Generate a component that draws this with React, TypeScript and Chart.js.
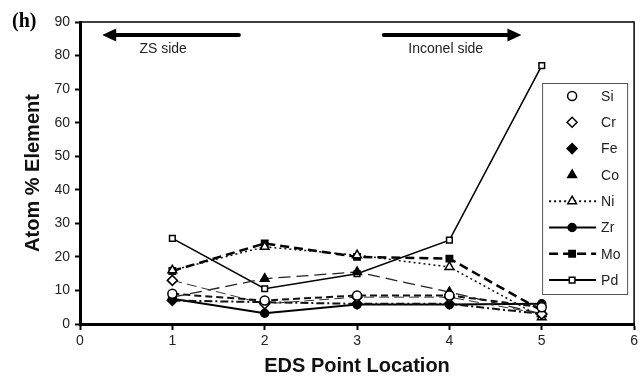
import React, { useEffect, useRef } from 'react';
import { Chart, registerables } from 'chart.js';
import { drawPoint } from 'chart.js/helpers';

Chart.register(...registerables);

// ---- data ----
const locations = [1, 2, 3, 4, 5];
const siValues = [9, 7, 8.5, 8.5, 5];
const crValues = [13, 6, 8, 8, 3];
const feValues = [7, 6.5, 6, 6, 3];
const coValues = [8, 13.5, 15.5, 9.5, 3];
const niValues = [16, 23, 20.5, 17, 2];
const zrValues = [7.5, 3.2, 5.8, 5.8, 6];
const moValues = [15.8, 24, 20, 19.5, 4];
const pdValues = [25.5, 10.5, 15, 25, 77];
const seriesNames = ['Si', 'Cr', 'Fe', 'Co', 'Ni', 'Zr', 'Mo', 'Pd'];
const xTickValues = [0, 1, 2, 3, 4, 5, 6];
const yTickValues = [0, 10, 20, 30, 40, 50, 60, 70, 80, 90];
const panelLabel = '(h)';
const xTitle = 'EDS Point Location';
const yTitle = 'Atom % Element';
const leftNote = 'ZS side';
const rightNote = 'Inconel side';

const seriesValues = [siValues, crValues, feValues, coValues, niValues, zrValues, moValues, pdValues];

// ---- styles ----
type Style = {
  pointStyle: string;
  radius: number;
  fill: string;
  dash: number[];
  width: number;
  lineColor: string;
  legendLine: boolean;
};
const styles: Style[] = [
  { pointStyle: 'circle', radius: 4.5, fill: '#fff', dash: [7, 4], width: 2, lineColor: '#111', legendLine: false },
  { pointStyle: 'rectRot', radius: 5, fill: '#fff', dash: [10, 5], width: 1, lineColor: '#333', legendLine: false },
  { pointStyle: 'rectRot', radius: 5, fill: '#000', dash: [8, 3, 2, 3], width: 2, lineColor: '#111', legendLine: false },
  { pointStyle: 'triangle', radius: 5, fill: '#000', dash: [12, 6], width: 1.3, lineColor: '#222', legendLine: false },
  { pointStyle: 'triangle', radius: 5, fill: '#fff', dash: [2, 3], width: 1.5, lineColor: '#111', legendLine: true },
  { pointStyle: 'circle', radius: 4, fill: '#000', dash: [], width: 2, lineColor: '#000', legendLine: true },
  { pointStyle: 'rect', radius: 4.5, fill: '#000', dash: [9, 5], width: 2.5, lineColor: '#000', legendLine: true },
  { pointStyle: 'rect', radius: 4, fill: '#fff', dash: [], width: 1.5, lineColor: '#000', legendLine: true },
];

const SANS = '"Liberation Sans", Arial, sans-serif';

const decorPlugin = {
  id: 'decor',
  afterDraw(chart: any) {
    const { ctx, chartArea: a, scales } = chart;
    const xs = scales.x;
    const ys = scales.y;
    ctx.save();
    // frame (top & right)
    ctx.strokeStyle = '#000';
    ctx.lineWidth = 1.5;
    ctx.beginPath();
    ctx.moveTo(a.left, a.top);
    ctx.lineTo(a.right, a.top);
    ctx.lineTo(a.right, a.bottom);
    ctx.stroke();

    // panel label
    ctx.fillStyle = '#000';
    ctx.font = 'bold 20px "Liberation Serif", "Times New Roman", serif';
    ctx.textAlign = 'left';
    ctx.textBaseline = 'alphabetic';
    ctx.fillText(panelLabel, 12, 27);

    // arrows
    const drawArrow = (x1: number, x2: number, yv: number) => {
      const px1 = xs.getPixelForValue(x1);
      const px2 = xs.getPixelForValue(x2);
      const py = ys.getPixelForValue(yv);
      const dir = Math.sign(px2 - px1);
      ctx.strokeStyle = '#000';
      ctx.lineWidth = 4;
      ctx.lineCap = 'round';
      ctx.beginPath();
      ctx.moveTo(px1, py);
      ctx.lineTo(px2 - dir * 10, py);
      ctx.stroke();
      ctx.fillStyle = '#000';
      ctx.beginPath();
      ctx.moveTo(px2, py);
      ctx.lineTo(px2 - dir * 14, py - 6.5);
      ctx.lineTo(px2 - dir * 14, py + 6.5);
      ctx.closePath();
      ctx.fill();
    };
    drawArrow(1.72, 0.24, 86.1);
    drawArrow(3.29, 4.78, 86.1);
    ctx.font = '14px ' + SANS;
    ctx.fillStyle = '#222';
    ctx.textAlign = 'center';
    ctx.textBaseline = 'middle';
    ctx.fillText(leftNote, xs.getPixelForValue(0.9), ys.getPixelForValue(82));
    ctx.fillText(rightNote, xs.getPixelForValue(3.96), ys.getPixelForValue(82));

    // legend
    const bl = a.right - 92;
    const br = a.right - 7;
    const bt = a.top + 61;
    const bb = a.top + 272;
    ctx.fillStyle = '#fff';
    ctx.fillRect(bl, bt, br - bl, bb - bt);
    ctx.strokeStyle = '#555';
    ctx.lineWidth = 1;
    ctx.strokeRect(bl + 0.5, bt + 0.5, br - bl, bb - bt);
    seriesNames.forEach((name, i) => {
      const st = styles[i];
      const cy = bt + 13 + i * 26.3;
      const mx = bl + 30;
      if (st.legendLine) {
        ctx.save();
        ctx.strokeStyle = st.lineColor;
        ctx.lineWidth = Math.max(st.width, 2);
        ctx.lineCap = 'butt';
        ctx.setLineDash(st.dash);
        ctx.beginPath();
        ctx.moveTo(bl + 7, cy);
        ctx.lineTo(bl + 54, cy);
        ctx.stroke();
        ctx.restore();
      }
      ctx.save();
      ctx.fillStyle = st.fill;
      ctx.strokeStyle = '#000';
      ctx.lineWidth = 1.5;
      ctx.setLineDash([]);
      drawPoint(ctx, { pointStyle: st.pointStyle as any, radius: st.radius, rotation: 0, borderWidth: 1.5 }, mx, cy);
      ctx.restore();
      ctx.font = '14px ' + SANS;
      ctx.fillStyle = '#222';
      ctx.textAlign = 'left';
      ctx.textBaseline = 'middle';
      ctx.fillText(name, bl + 59, cy + 1);
    });
    ctx.restore();
  },
};

export default function App() {
  const ref = useRef<HTMLCanvasElement | null>(null);
  useEffect(() => {
    document.body.style.margin = '0';
    if (!ref.current) return;
    const datasets = seriesNames.map((name, i) => {
      const st = styles[i];
      return {
        label: name,
        data: locations.map((x, j) => ({ x, y: seriesValues[i][j] })),
        borderColor: st.lineColor,
        borderWidth: st.width,
        borderDash: st.dash,
        backgroundColor: st.fill,
        pointStyle: st.pointStyle,
        pointRadius: st.radius,
        pointBackgroundColor: st.fill,
        pointBorderColor: '#000',
        pointBorderWidth: 1.5,
        tension: 0,
        fill: false,
      };
    });
    const chart = new Chart(ref.current, {
      type: 'line',
      data: { datasets } as any,
      options: {
        responsive: false,
        animation: false,
        events: [],
        layout: { padding: { top: 22, right: 3, left: 0, bottom: 0 } },
        plugins: { legend: { display: false }, tooltip: { enabled: false } },
        scales: {
          x: {
            type: 'linear',
            min: 0,
            max: 6,
            afterFit: (s: any) => { s.height = 54; },
            afterBuildTicks: (s: any) => { s.ticks = xTickValues.map((v) => ({ value: v })); },
            ticks: { font: { size: 14, family: SANS }, color: '#222', padding: 3 },
            grid: { drawOnChartArea: false, drawTicks: true, tickLength: 6, tickWidth: 2, tickColor: '#000' },
            border: { display: true, color: '#000', width: 3 },
            title: { display: true, text: xTitle, font: { size: 20, weight: 'bold', family: SANS }, color: '#111', padding: { top: 0, bottom: 0 } },
          },
          y: {
            type: 'linear',
            min: 0,
            max: 90,
            afterFit: (s: any) => { s.width = 80; },
            afterBuildTicks: (s: any) => { s.ticks = yTickValues.map((v) => ({ value: v })); },
            ticks: { font: { size: 14, family: SANS }, color: '#222', padding: 5 },
            grid: { drawOnChartArea: false, drawTicks: true, tickLength: 5, tickWidth: 2, tickColor: '#000' },
            border: { display: true, color: '#000', width: 3 },
            title: { display: true, text: yTitle, font: { size: 20, weight: 'bold', family: SANS }, color: '#111', padding: { top: 21, bottom: 0 } },
          },
        },
      } as any,
      plugins: [decorPlugin],
    });
    return () => chart.destroy();
  }, []);
  return (
    <div style={{ width: 641, height: 378 }}>
      <canvas ref={ref} width={641} height={378} />
    </div>
  );
}
